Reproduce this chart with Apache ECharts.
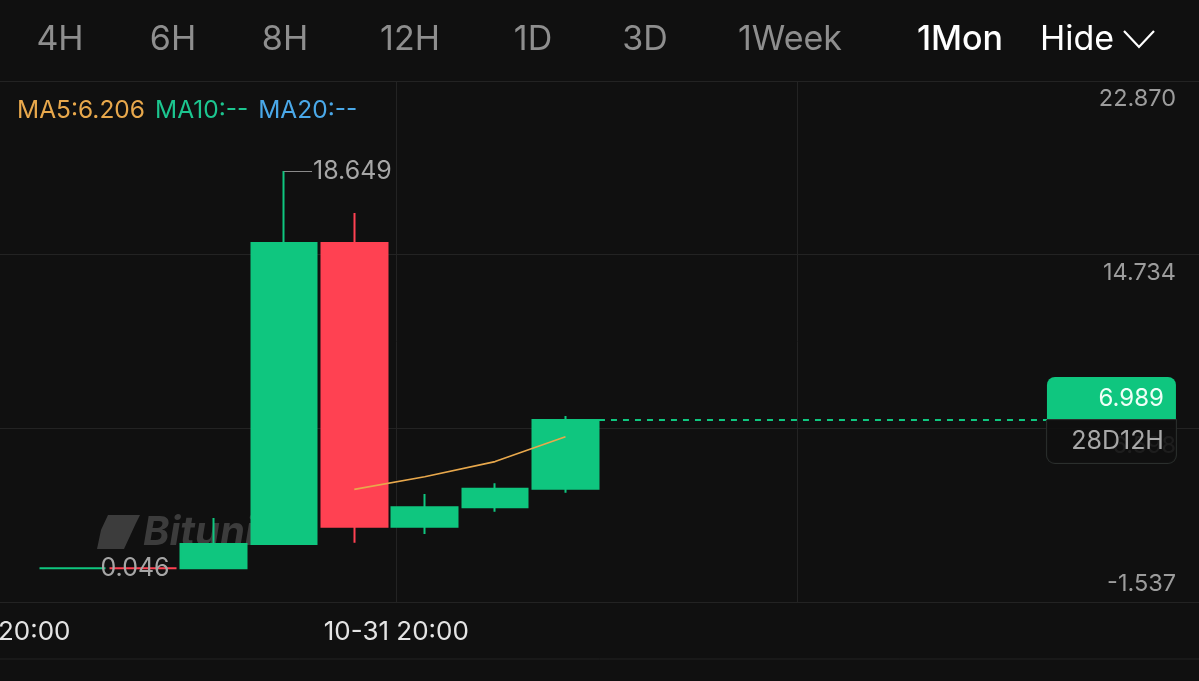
<!DOCTYPE html>
<html>
<head>
<meta charset="utf-8">
<script src="https://cdn.jsdelivr.net/npm/echarts@6/dist/echarts.min.js"></script>
<style>
html,body{margin:0;padding:0;background:#101010;}
#c{width:1199px;height:681px;}
</style>
</head>
<body>
<div id="c"></div>
<script>
// ---- data ----
const periods = ['4H', '6H', '8H', '12H', '1D', '3D', '1Week', '1Mon'];
const activePeriod = '1Mon';
const candleIndex = [0, 1, 2, 3, 4, 5, 6, 7];
const opens  = [0.046, 0.048, 0.046, 1.180, 15.281, 1.991, 2.900, 3.771];
const closes = [0.046, 0.046, 1.180, 15.281, 1.991, 2.900, 3.771, 6.989];
const lows   = [0.046, 0.046, 0.046, 1.180, 1.241, 1.649, 2.693, 3.583];
const highs  = [0.046, 0.048, 2.398, 18.649, 16.686, 3.523, 4.024, 7.177];
const ma5    = [null, null, null, null, 3.74, 4.33, 5.04, 6.206];
const yTickLabels = ['-1.537', '6.598', '14.734', '22.870'];
const xTickLabels = ['10-30 20:00', '10-31 20:00', '', ''];
const lastPrice = 6.989;
const countdown = '28D12H';
const highMark = { index: 3, value: 18.649 };
const lowMark = { index: 0, value: 0.046 };

// ---- layout / style ----
const FONT = 'Inter, "Noto Sans", sans-serif';
const GREEN = '#0FC67F';
const RED = '#FF4152';
const GRID_COLOR = '#232323';
const tabX = [60, 173, 285, 410, 533, 645, 790, 960];

const candleData = candleIndex.map((x, i) => [x, opens[i], closes[i], lows[i], highs[i]]);
const maData = candleIndex.map((x, i) => [x, ma5[i]]);
const lastIdx = candleIndex[candleIndex.length - 1];
const lastMa5 = ma5.filter(v => v != null).slice(-1)[0];

const chart = echarts.init(document.getElementById('c'), null, { renderer: 'canvas' });

const graphics = [];
periods.forEach((p, i) => {
  const active = p === activePeriod;
  graphics.push({
    type: 'text', x: tabX[i], y: 40, z: 10,
    style: {
      text: p, fontFamily: FONT, fontSize: 34, fontWeight: active ? 500 : 400,
      fill: active ? '#ffffff' : '#8e8e8e', align: 'center', verticalAlign: 'middle'
    }
  });
});
graphics.push({
  type: 'text', x: 1040, y: 40, z: 10,
  style: { text: 'Hide', fontFamily: FONT, fontSize: 34, fill: '#ffffff', align: 'left', verticalAlign: 'middle' }
});
graphics.push({
  type: 'polyline', z: 10,
  shape: { points: [[1124, 31], [1139, 47], [1154, 31]] },
  style: { stroke: '#ffffff', lineWidth: 2.2, fill: null }
});
graphics.push({
  type: 'line', z: 1,
  shape: { x1: 0, y1: 659, x2: 1199, y2: 659 },
  style: { stroke: GRID_COLOR, lineWidth: 1 }
});
// watermark
graphics.push({
  type: 'polygon', z: 0,
  shape: { points: [[108, 515], [140, 515], [136, 523], [124, 549], [97, 549], [101, 530]] },
  style: { fill: '#3c3c3c' }
});
graphics.push({
  type: 'text', x: 143, y: 533, z: 0,
  style: {
    text: 'Bitunix', fontFamily: FONT, fontSize: 40, fontWeight: 'bold', fontStyle: 'italic',
    fill: '#3c3c3c', align: 'left', verticalAlign: 'middle'
  }
});

const option = {
  backgroundColor: '#101010',
  animation: false,
  title: {
    left: 12, top: 93,
    text: '{a|MA5:' + lastMa5.toFixed(3) + '}  {b|MA10:--}  {c|MA20:--}',
    textStyle: {
      fontWeight: 'normal',
      rich: {
        a: { color: '#E8A84C', fontSize: 24.5, fontFamily: FONT, fontWeight: 'normal' },
        b: { color: '#1CC58F', fontSize: 24.5, fontFamily: FONT, fontWeight: 'normal' },
        c: { color: '#4AA8E8', fontSize: 24.5, fontFamily: FONT, fontWeight: 'normal' }
      }
    }
  },
  graphic: graphics,
  grid: { left: -5, right: 0, top: 81, bottom: 79, outerBoundsMode: 'none', containLabel: false },
  xAxis: [
    { type: 'value', min: -1.104, max: 16, show: false, gridIndex: 0 },
    {
      type: 'value', min: 0, max: 3, interval: 1, gridIndex: 0, position: 'bottom',
      axisLine: { show: false }, axisTick: { show: false },
      splitLine: { show: true, lineStyle: { color: GRID_COLOR, width: 1 } },
      axisLabel: {
        margin: 17, color: '#e4e4e4', fontSize: 26, fontFamily: FONT,
        showMinLabel: true, showMaxLabel: true, hideOverlap: false,
        formatter: v => xTickLabels[Math.round(v)] || ''
      }
    }
  ],
  yAxis: [
    { type: 'value', min: -1.537, max: 22.870, show: false, gridIndex: 0 },
    {
      type: 'value', min: 0, max: 3, interval: 1, position: 'right', gridIndex: 0,
      axisLine: { show: false }, axisTick: { show: false },
      splitLine: { show: true, lineStyle: { color: GRID_COLOR, width: 1 } },
      axisLabel: {
        inside: true, margin: 23, showMinLabel: true, showMaxLabel: true,
        formatter: v => {
          const i = Math.round(v);
          return i === 0 ? '{u|' + yTickLabels[i] + '}' : '{d|' + yTickLabels[i] + '}';
        },
        rich: {
          d: { color: '#9c9c9c', fontSize: 23.5, fontFamily: FONT, padding: [36, 0, 0, 0] },
          u: { color: '#9c9c9c', fontSize: 23.5, fontFamily: FONT, padding: [0, 0, 36, 0] }
        }
      }
    }
  ],
  series: [
    {
      type: 'candlestick',
      xAxisIndex: 0, yAxisIndex: 0,
      barWidth: 66,
      encode: { x: 0, y: [1, 2, 3, 4] },
      data: candleData,
      itemStyle: { color: GREEN, color0: RED, borderColor: GREEN, borderColor0: RED, borderWidth: 2 },
      markLine: {
        silent: true, symbol: ['none', 'none'], animation: false,
        data: [
          [
            {
              coord: [lastIdx + 0.476, lastPrice],
              lineStyle: { color: GREEN, width: 2, type: [6, 6] },
              label: {
                show: true, position: 'end', distance: 0,
                formatter: '{p|' + lastPrice.toFixed(3) + '}\n{t|' + countdown + '}',
                rich: {
                  p: {
                    backgroundColor: GREEN, color: '#effff7', fontSize: 24, fontFamily: FONT,
                    width: 105, height: 43, lineHeight: 43, align: 'right',
                    padding: [0, 12, 0, 12], borderRadius: [8, 8, 0, 0]
                  },
                  t: {
                    backgroundColor: 'rgba(16,16,16,0.9)', borderColor: '#2b2f2d', borderWidth: 1,
                    color: '#a8a8a8', fontSize: 25, fontFamily: FONT,
                    width: 105, height: 43, lineHeight: 43, align: 'right',
                    padding: [0, 12, 0, 12], borderRadius: [0, 0, 8, 8]
                  }
                }
              }
            },
            { coord: [13.84, lastPrice] }
          ],
          [
            {
              coord: [highMark.index, highMark.value],
              lineStyle: { color: '#8a8a8a', width: 1, type: 'solid' },
              label: {
                show: true, position: 'end', distance: 1, formatter: highMark.value.toFixed(3),
                color: '#a6a6a6', fontSize: 25, fontFamily: FONT
              }
            },
            { coord: [highMark.index + 0.4, highMark.value] }
          ],
          [
            {
              coord: [lowMark.index, lowMark.value],
              lineStyle: { color: 'rgba(0,0,0,0)', width: 1, type: 'solid' },
              label: {
                show: true, position: 'end', distance: 1, formatter: lowMark.value.toFixed(3),
                color: '#a6a6a6', fontSize: 25, fontFamily: FONT
              }
            },
            { coord: [lowMark.index + 0.38, lowMark.value] }
          ]
        ]
      }
    },
    {
      type: 'line', name: 'MA5',
      xAxisIndex: 0, yAxisIndex: 0,
      data: maData, showSymbol: false, symbol: 'none',
      lineStyle: { color: '#E8A84C', width: 1.6 },
      z: 3
    }
  ]
};
chart.setOption(option);
</script>
</body>
</html>
